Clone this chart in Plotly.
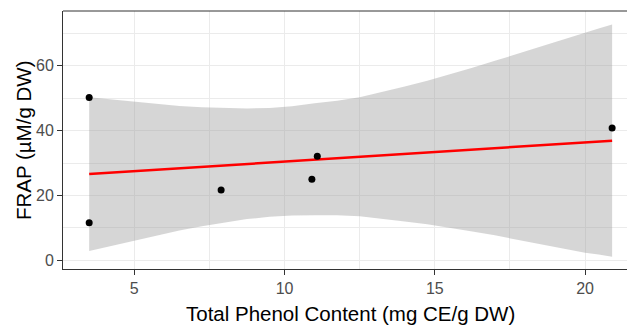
import plotly.graph_objects as go

# Observed data points
phenol = [3.5, 3.5, 7.89, 10.91, 11.09, 20.9]
frap = [50.2, 11.6, 21.7, 25.0, 32.1, 40.8]

# Fitted line
fit_x = [3.5, 20.9]
fit_y = [26.6, 36.9]

# Confidence band
band_x = [3.5, 4.25, 5, 5.75, 6.5, 7.25, 8, 8.75, 9.5, 10.25, 11, 11.75, 12.5,
          13.25, 14, 14.75, 15.5, 16.25, 17, 17.75, 18.5, 19.25, 20, 20.45, 20.9]
band_upper = [50.3, 49.6, 49.0, 48.3, 47.6, 47.2, 46.9, 46.8, 47.0, 47.5, 48.4, 49.2, 50.3,
              51.9, 53.6, 55.4, 57.3, 59.4, 61.5, 63.7, 65.9, 68.1, 70.4, 71.5, 72.7]
band_lower = [2.9, 4.5, 6.0, 7.6, 9.2, 10.5, 11.7, 12.7, 13.4, 13.8, 13.9, 13.9, 13.6,
              12.9, 12.0, 11.1, 10.1, 8.9, 7.7, 6.4, 5.1, 3.7, 2.3, 1.8, 1.1]

x_ticks = [5, 10, 15, 20]
y_ticks = [0, 20, 40, 60]

FONT = "Arial, Liberation Sans, sans-serif"

fig = go.Figure()
fig.add_trace(go.Scatter(x=band_x, y=band_lower, mode="lines", line=dict(width=0),
                         showlegend=False, hoverinfo="skip"))
fig.add_trace(go.Scatter(x=band_x, y=band_upper, mode="lines", line=dict(width=0),
                         fill="tonexty", fillcolor="rgba(153,153,153,0.4)",
                         showlegend=False, hoverinfo="skip"))
fig.add_trace(go.Scatter(x=fit_x, y=fit_y, mode="lines", line=dict(color="#FF0000", width=2.5),
                         showlegend=False))
fig.add_trace(go.Scatter(x=phenol, y=frap, mode="markers",
                         marker=dict(color="black", size=7), showlegend=False))

axis_common = dict(
    showgrid=True, gridcolor="#EBEBEB", gridwidth=1,
    zeroline=False, showline=True, linecolor="#333333", linewidth=1,
    ticks="outside", ticklen=5, tickwidth=1, tickcolor="#333333",
    tickfont=dict(family=FONT, size=16, color="#4D4D4D"),
)

fig.update_layout(
    width=627, height=329,
    margin=dict(l=63, r=0, t=11, b=60),
    paper_bgcolor="white", plot_bgcolor="white",
    font=dict(family=FONT),
    xaxis=dict(range=[2.629, 21.395], tickvals=x_ticks,
               minor=dict(tickvals=[2.5, 7.5, 12.5, 17.5], showgrid=True,
                          gridcolor="#EBEBEB", gridwidth=1, ticks=""),
               **axis_common),
    yaxis=dict(range=[-2.68, 76.87], tickvals=y_ticks,
               minor=dict(tickvals=[10, 30, 50, 70], showgrid=True,
                          gridcolor="#EBEBEB", gridwidth=1, ticks=""),
               **axis_common),
    shapes=[dict(type="line", xref="paper", yref="paper", x0=0, x1=1, y0=1, y1=1,
                 line=dict(color="#333333", width=1))],
    annotations=[
        dict(text="Total Phenol Content (mg CE/g DW)", xref="paper", yref="paper",
             x=0.5106, y=-0.174, xanchor="center", yanchor="middle", showarrow=False,
             font=dict(family=FONT, size=20.5, color="black")),
        dict(text="FRAP (µM/g DW)", xref="paper", yref="paper",
             x=-0.0709, y=0.5, xanchor="center", yanchor="middle", showarrow=False,
             textangle=-90, font=dict(family=FONT, size=20.5, color="black")),
    ],
)

fig.write_html("out.html")
